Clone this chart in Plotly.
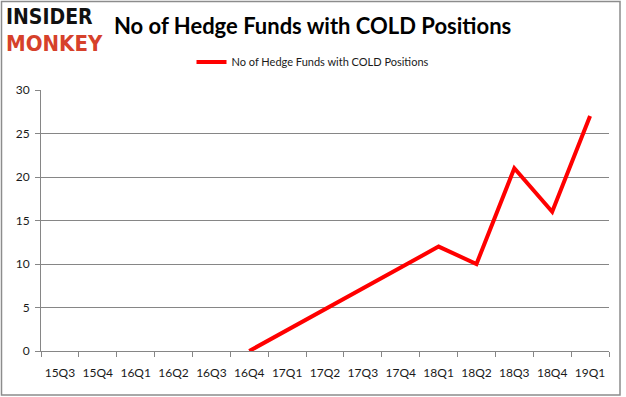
import plotly.graph_objects as go

quarters = ["15Q3", "15Q4", "16Q1", "16Q2", "16Q3", "16Q4", "17Q1", "17Q2",
            "17Q3", "17Q4", "18Q1", "18Q2", "18Q3", "18Q4", "19Q1"]
hedge_funds = [None, None, None, None, None, 0, None, None,
               None, None, 12, 10, 21, 16, 27]
series_name = "No of Hedge Funds with COLD Positions"
title_text = "No of Hedge Funds with COLD Positions"

W, H = 626, 397
L, R, T, B = 41, 17, 90, 46
pw, ph = W - L - R, H - T - B

def px(x):
    return (x - L) / pw

def py(y):
    return (H - B - y) / ph

fig = go.Figure()
fig.add_trace(go.Scatter(
    x=quarters, y=hedge_funds, mode="lines", name=series_name,
    connectgaps=True,
    line=dict(color="#ff0000", width=4),
))

grid = "#868686"
fig.update_layout(
    width=W, height=H,
    margin=dict(l=L, r=R, t=T, b=B, autoexpand=False),
    paper_bgcolor="white", plot_bgcolor="white",
    font=dict(family="Lato", color="#1a1a1a"),
    showlegend=True,
    legend=dict(orientation="h", x=px(313), y=py(62), xanchor="center", yanchor="middle",
                font=dict(size=11, family="Lato", color="#1a1a1a"),
                bgcolor="rgba(0,0,0,0)", itemwidth=30),
    xaxis=dict(type="category", range=[-0.5, len(quarters) - 0.5],
               tickson="boundaries", ticks="outside", ticklen=5, tickcolor=grid,
               showline=True, linecolor=grid, linewidth=1, automargin=False,
               tickangle=0,
               showgrid=False, tickfont=dict(size=12, family="Lato", color="#1a1a1a"),
               ticklabelstandoff=11),
    yaxis=dict(range=[0, 30], dtick=5, ticks="outside", ticklen=5, tickcolor=grid,
               showline=True, linecolor=grid, linewidth=1, automargin=False,
               showgrid=True, gridcolor=grid, gridwidth=1, zeroline=False,
               tickfont=dict(size=12, family="Lato", color="#1a1a1a"),
               ticklabelstandoff=3),
)

# outer frame
fig.add_shape(type="rect", xref="paper", yref="paper",
              x0=px(1.5), x1=px(620), y0=py(395), y1=py(1.5),
              line=dict(color="#8c8c8c", width=1.5), layer="below")

# title
fig.add_annotation(text="<b>" + title_text + "</b>", xref="paper", yref="paper",
                   x=px(312), y=py(26), xanchor="center", yanchor="middle",
                   showarrow=False, font=dict(size=22, family="Lato", color="#000000"))

# logo
fig.add_annotation(text="<b>INSIDER</b>", xref="paper", yref="paper",
                   x=px(4), y=py(17), xanchor="left", yanchor="middle",
                   showarrow=False,
                   font=dict(size=21, family="DejaVu Sans Condensed, DejaVu Sans", color="#111111"))
fig.add_annotation(text="<b>MONKEY</b>", xref="paper", yref="paper",
                   x=px(4), y=py(43), xanchor="left", yanchor="middle",
                   showarrow=False,
                   font=dict(size=22, family="DejaVu Sans Condensed, DejaVu Sans", color="#d6412b"))

fig.write_html("out.html", post_script="document.body.style.margin='0';",
               config={"displayModeBar": False})
